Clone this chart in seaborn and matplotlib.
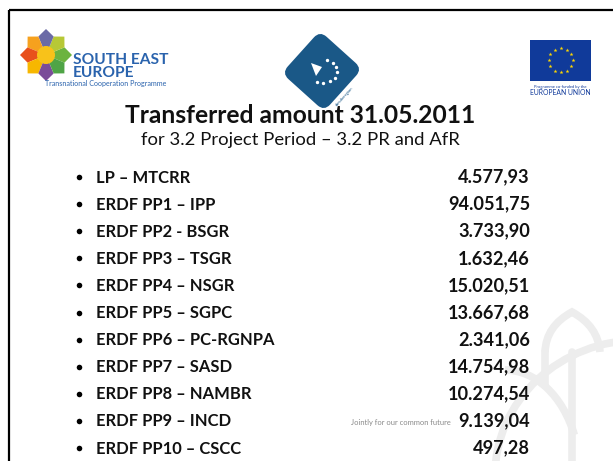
import numpy as np
import matplotlib
matplotlib.use("Agg")
import matplotlib.pyplot as plt
import seaborn as sns
from matplotlib.patches import Rectangle, FancyBboxPatch, Polygon, Circle, Arc, PathPatch
from matplotlib.path import Path
from matplotlib.transforms import Affine2D

sns.set_theme(style="white")
plt.rcParams['font.family'] = ['Lato', 'DejaVu Sans']

title = "Transferred amount 31.05.2011"
subtitle = "for 3.2 Project Period \u2013 3.2 PR and AfR"
partners = ["LP \u2013 MTCRR", "ERDF PP1 \u2013 IPP", "ERDF PP2 - BSGR", "ERDF PP3 \u2013 TSGR",
            "ERDF PP4 \u2013 NSGR", "ERDF PP5 \u2013 SGPC", "ERDF PP6 \u2013 PC-RGNPA",
            "ERDF PP7 \u2013 SASD", "ERDF PP8 \u2013 NAMBR", "ERDF PP9 \u2013 INCD",
            "ERDF PP10 \u2013 CSCC"]
amounts = ["4.577,93", "94.051,75", "3.733,90", "1.632,46", "15.020,51", "13.667,68",
           "2.341,06", "14.754,98", "10.274,54", "9.139,04", "497,28"]
footer = "Jointly for our common future"

W, H = 613, 461
fig = plt.figure(figsize=(W / 100, H / 100), dpi=100)
ax = fig.add_axes([0, 0, 1, 1])
ax.set_xlim(0, W)
ax.set_ylim(H, 0)
ax.axis("off")
renderer = fig.canvas.get_renderer()


def fit_size(s, width, weight="normal"):
    # font size that gives the wanted text width in pixels
    t = ax.text(0, 0, s, fontsize=10, fontweight=weight)
    w = t.get_window_extent(renderer).width
    t.remove()
    return 10 * width / w


# slide frame
ax.plot([9, W], [10, 10], color="black", lw=1.6, solid_capstyle="butt")
ax.plot([9, 9], [10, H], color="black", lw=1.6, solid_capstyle="butt")

# watermark in the lower right
wm = "#ededed"
dome = [(545, 352), (546, 326), (572, 312), (598, 326), (600, 352)]
ax.add_patch(PathPatch(Path(dome, [Path.MOVETO, Path.CURVE3, Path.CURVE3, Path.CURVE3, Path.CURVE3]),
                       fill=False, ec=wm, lw=5.5))
ax.add_patch(Arc((640, 475), 290, 270, theta1=180, theta2=270, ec=wm, lw=5.5))
ax.add_patch(Arc((505, 475), 150, 210, theta1=270, theta2=330, ec=wm, lw=5.5))
ax.plot([572, 572], [352, H], color=wm, lw=5.5)
ax.plot([545, 545], [352, 385], color=wm, lw=5.5)

# SEE logo: pinwheel star
cx, cy, r_out, r_in = 46, 55, 26, 20
star_cols = ["#6cb33f", "#b7c836", "#6b6aa6", "#f6a11e", "#e8501c", "#f7b700", "#7b4c99", "#4fa446"]
for k, col in enumerate(star_cols):
    a = np.deg2rad(45 * k)
    pts = [(cx, cy),
           (cx + r_in * np.cos(a - np.pi / 8), cy - r_in * np.sin(a - np.pi / 8)),
           (cx + r_out * np.cos(a), cy - r_out * np.sin(a)),
           (cx + r_in * np.cos(a + np.pi / 8), cy - r_in * np.sin(a + np.pi / 8))]
    ax.add_patch(Polygon(pts, closed=True, fc=col, ec="none"))
ax.add_patch(Circle((cx, cy), 9, fc="#f8c21a", ec="none"))
see_blue = "#2a63ad"
see_fs = fit_size("SOUTH EAST", 95, "bold")
ax.text(73, 64, "SOUTH EAST", color=see_blue, fontweight="bold", fontsize=see_fs, va="baseline")
ax.text(73, 77, "EUROPE", color=see_blue, fontweight="bold", fontsize=see_fs, va="baseline")
ax.text(45, 86, "Transnational Cooperation Programme", color=see_blue,
        fontsize=fit_size("Transnational Cooperation Programme", 123), va="baseline")

# middle logo: rounded diamond
dcx, dcy, side = 322, 71, 57
rot = Affine2D().rotate_deg_around(dcx, dcy, 42) + ax.transData
ax.add_patch(FancyBboxPatch((dcx - side / 2, dcy - side / 2), side, side,
                            boxstyle="round,pad=0,rounding_size=9",
                            fc="#1a5887", ec="none", transform=rot))
ax.add_patch(Polygon([(311, 63), (322, 67), (316, 76)], closed=True, fc="white", ec="none"))
dot_a = np.deg2rad(np.linspace(-70, 110, 8))
ax.scatter(322 + 15 * np.cos(dot_a), 71 + 15 * np.sin(dot_a) * 0.8, s=2, color="white", zorder=3)
ax.text(345, 97, "danuberegion", rotation=48, fontsize=3, color="#1a5887",
        ha="center", va="center")

# EU flag
ax.add_patch(Rectangle((530, 40), 61, 41, fc="#103a9a", ec="none"))
sa = np.deg2rad(np.arange(12) * 30)
ax.scatter(560.5 + 12 * np.cos(sa), 60.5 + 12 * np.sin(sa), marker="*", s=9,
           color="#ffd800", linewidths=0, zorder=3)
ax.text(560.5, 88, "Programme co-funded by the", fontsize=3, color="#103a9a", ha="center", va="baseline")
ax.text(560.5, 95, "EUROPEAN UNION", fontsize=fit_size("EUROPEAN UNION", 60), color="#103a9a",
        ha="center", va="baseline")

# headings
ax.text(300, 123, title, ha="center", va="baseline", fontweight="bold", color="#111111",
        fontsize=fit_size(title, 352, "bold"))
ax.text(300, 145, subtitle, ha="center", va="baseline", color="#111111",
        fontsize=fit_size(subtitle, 318))

# bullet list
row_y = 177 + 27.1 * np.arange(len(partners))
lab_fs = fit_size("ERDF PP6 \u2013 PC-RGNPA", 178, "bold")
num_fs = fit_size("94.051,75", 82, "bold")
sns.scatterplot(x=np.full(len(partners), 79.0), y=row_y, ax=ax, s=16, color="black",
                linewidth=0, legend=False)
for y, lab, amt in zip(row_y, partners, amounts):
    ax.text(96, y + 5.5, lab, fontsize=lab_fs, fontweight="bold", color="#111111", va="baseline")
    ax.text(530, y + 5.5, amt, fontsize=num_fs, fontweight="bold", color="#111111",
            va="baseline", ha="right")

ax.text(451, row_y[9] + 4, footer, fontsize=fit_size(footer, 100), color="#8a8a8a",
        ha="right", va="baseline")

ax.set_xlim(0, W)
ax.set_ylim(H, 0)
ax.axis("off")
fig.savefig("out.png", dpi=100, facecolor="white")
